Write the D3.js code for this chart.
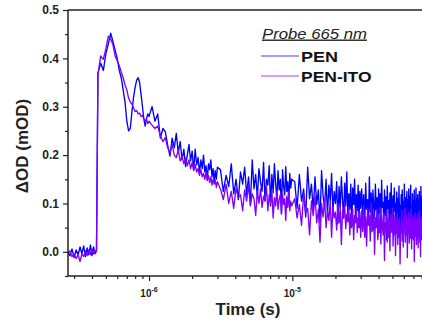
<!DOCTYPE html>
<html><head><meta charset="utf-8">
<script src="https://cdn.jsdelivr.net/npm/d3@7"></script>
<style>html,body{margin:0;padding:0;background:#fff;}svg{display:block;}</style>
</head><body>
<script>
// time in ns
const timeNs = [
270,280,290,300,310,320,330,340,350,360,370,380,390,400,410,420,430,
440,460,480,500,520,540,560,580,600,620,640,660,680,700,720,740,760,780,800,820,840,860,880,900,920,940,960,980,1000,
1050,1100,1150,1200,1250,1300,1350,1400,1450,1500,1550,1600,1650,1700,1750,1800,1850,1900,1950,2000,2050,2100,2150,2200,2250,2300,2350,2400,2450,2500,2550,2600,2650,2700,2750,2800,2850,2900,2950,3000,
3150,3300,3450,3600,3750,3900,4050,4200,4350,4500,4650,4800,4950,5100,5250,5400,5550,5700,5850,6000,6150,6300,6450,6600,6750,6900,7050,7200,7350,7500,7650,7800,7950,8100,8250,8400,8550,8700,8850,9000,9150,9300,9450,9600,9750,9900,
10400,10800,11200,11600,12000,12400,12800,13200,13600,14000,14400,14800,15200,15600,16000,16400,16800,17200,17600,18000,18400,18800,19200,19600,20000,20400,20800,21200,21600,22000,22400,22800,23200,23600,24000,24400,24800,25200,25600,26000,26400,26800,27200,27600,28000,28400,28800,29200,29600,30000,
30500,31000,31500,32000,32500,33000,33500,34000,34500,35000,
35500,36000,36500,37000,37500,38000,38500,39000,39500,40000,
40500,41000,41500,42000,42500,43000,43500,44000,44500,45000,
45500,46000,46500,47000,47500,48000,48500,49000,49500,50000,
50500,51000,51500,52000,52500,53000,53500,54000,54500,55000,
55500,56000,56500,57000,57500,58000,58500,59000,59500,60000,
60500,61000,61500,62000,62500,63000,63500,64000,64500,65000,
65500,66000,66500,67000,67500,68000,68500,69000,69500,70000,
70500,71000,71500,72000,72500,73000,73500,74000,74500,75000,
75500,76000,76500,77000,77500,78000,78500,79000,79500,80000,
80500,81000,81500,82000,82500,83000,83500,84000,84500,85000
];
const penOD = [
0.002,-0.008,0.006,-0.012,0.004,-0.006,0.01,-0.004,0.012,-0.01,0.008,-0.006,0.014,-0.008,0.01,-0.004,0.004,
0.37,0.39,0.375,0.41,0.43,0.452,0.435,0.417,0.40,0.375,0.36,0.335,0.31,0.27,0.25,0.255,0.29,0.32,0.34,0.355,0.36,0.35,0.325,0.30,0.275,0.26,0.275,0.285,0.28,
0.30,0.27,0.285,0.235,0.255,0.248,0.22,0.198,0.235,0.215,0.245,0.205,0.228,0.19,0.212,0.176,0.2,0.222,0.188,0.208,0.17,0.212,0.18,0.195,0.163,0.19,0.172,0.2,0.165,0.178,0.148,0.182,0.17,0.19,0.155,0.172,0.145,0.168,0.15,0.175,
0.17,0.125,0.158,0.135,0.182,0.12,0.15,0.108,0.165,0.14,0.175,0.118,0.155,0.098,0.19,0.13,0.16,0.112,0.172,0.145,0.125,0.185,0.105,0.15,0.138,0.178,0.095,0.16,0.122,0.182,0.14,0.11,0.168,0.128,0.15,0.08,0.17,0.135,0.118,0.176,0.125,0.145,0.1,0.162,0.132,0.15,
0.145,0.09,0.16,0.105,0.13,0.072,0.175,0.11,0.14,0.085,0.155,0.098,0.128,0.06,0.168,0.115,0.092,0.15,0.075,0.138,0.105,0.162,0.082,0.125,0.1,0.145,0.058,0.135,0.09,0.155,0.108,0.07,0.142,0.095,0.165,0.078,0.12,0.088,0.14,0.05,0.132,0.098,0.15,0.072,0.118,0.085,0.138,0.065,0.125,0.09,
0.13,0.075,0.118,0.052,0.142,0.088,0.108,0.065,0.155,0.082,
0.122,0.042,0.128,0.096,0.07,0.14,0.086,0.112,0.032,0.13,
0.08,0.12,0.06,0.148,0.092,0.102,0.048,0.128,0.076,0.114,
0.025,0.136,0.09,0.106,0.056,0.122,0.072,0.142,0.042,0.1,
0.116,0.062,0.132,0.084,0.1,0.038,0.124,0.076,0.11,0.052,
0.136,0.07,0.096,0.046,0.118,0.088,0.128,0.058,0.104,0.035,
0.14,0.078,0.112,0.06,0.098,0.125,0.05,0.108,0.082,0.13,
0.045,0.115,0.07,0.138,0.062,0.095,0.028,0.12,0.085,0.105,
0.055,0.128,0.075,0.1,0.04,0.132,0.068,0.11,0.05,0.118,
0.08,0.098,0.035,0.125,0.072,0.108,0.058,0.135,0.065,0.092,
0.045,0.115,0.078,0.12,0.052,0.102,0.07,0.128,0.04,0.11
];
const penItoOD = [
-0.004,0.002,-0.01,-0.004,-0.014,-0.006,-0.02,-0.004,-0.01,0.002,-0.008,0.004,-0.006,0.006,-0.004,0.002,0.0,
0.366,0.405,0.398,0.42,0.446,0.44,0.428,0.405,0.395,0.385,0.372,0.36,0.345,0.335,0.318,0.31,0.305,0.298,0.29,0.292,0.285,0.287,0.28,0.282,0.275,0.27,0.275,0.265,0.27,
0.262,0.255,0.26,0.24,0.228,0.236,0.215,0.205,0.222,0.2,0.195,0.21,0.188,0.198,0.182,0.194,0.178,0.19,0.172,0.185,0.168,0.18,0.165,0.172,0.158,0.17,0.155,0.162,0.15,0.165,0.148,0.158,0.143,0.155,0.138,0.15,0.14,0.148,0.133,0.145,
0.13,0.108,0.14,0.1,0.125,0.09,0.132,0.112,0.118,0.085,0.128,0.105,0.138,0.095,0.12,0.11,0.075,0.125,0.1,0.13,0.092,0.115,0.105,0.135,0.085,0.118,0.1,0.125,0.07,0.112,0.095,0.128,0.088,0.108,0.118,0.078,0.12,0.098,0.11,0.065,0.115,0.092,0.125,0.085,0.105,0.095,
0.11,0.07,0.098,0.055,0.12,0.08,0.09,0.035,0.105,0.075,0.115,0.06,0.088,0.02,0.1,0.072,0.11,0.05,0.085,0.065,0.105,0.03,0.095,0.07,0.082,0.045,0.1,0.06,0.09,0.015,0.085,0.07,0.098,0.048,0.078,0.062,0.092,0.035,0.08,0.055,0.088,0.025,0.075,0.06,0.09,0.04,0.07,0.05,0.082,0.03,
0.085,0.042,0.095,0.03,0.072,0.012,0.09,0.055,0.076,0.022,
0.1,0.06,0.045,0.082,-0.005,0.07,0.05,0.088,0.025,0.066,
0.04,0.092,0.016,0.075,0.055,0.035,0.08,-0.018,0.06,0.045,
0.086,0.02,0.07,0.03,0.065,0.002,0.078,0.05,0.04,0.09,
0.012,0.06,0.035,0.075,-0.008,0.055,0.045,0.08,0.015,0.066,
0.03,0.07,-0.025,0.05,0.04,0.085,0.022,0.062,0.01,0.072,
0.048,0.09,0.02,0.058,0.035,0.076,-0.012,0.064,0.04,0.082,
0.018,0.055,0.07,0.028,0.088,0.006,0.06,0.045,0.074,0.025,
0.066,-0.02,0.05,0.08,0.032,0.068,0.015,0.058,0.042,0.078,
0.008,0.062,0.036,0.085,0.02,0.052,-0.01,0.07,0.04,0.06,
0.025,0.075,0.045,0.01,0.068,0.035,0.08,0.018,0.055,0.04
];
const seriesNames = ["PEN", "PEN-ITO"];
const seriesColors = ["#0000ff", "#8000ff"];
const yTicks = [0.0, 0.1, 0.2, 0.3, 0.4, 0.5];
const yMinorTicks = [-0.05, 0.05, 0.15, 0.25, 0.35, 0.45];
const xMajorTicks = [1e-6, 1e-5];
const xMajorExp = ["-6", "-5"];
const xMinorTicks = [3e-7,4e-7,5e-7,6e-7,7e-7,8e-7,9e-7,2e-6,3e-6,4e-6,5e-6,6e-6,7e-6,8e-6,9e-6,2e-5,3e-5,4e-5,5e-5,6e-5,7e-5,8e-5,9e-5];
const legendTitle = "Probe 665 nm";
const xTitle = "Time (s)";
const yTitle = "ΔOD (mOD)";

const W = 422, H = 327;
const L = 68, T = 10, B = 276, R = 435.6;
const font = "'Liberation Sans', Arial, sans-serif";

const svg = d3.select("body").append("svg").attr("width", W).attr("height", H);
const x = d3.scaleLog().domain([2.72e-7, 1e-4]).range([L, R]);
const y = d3.scaleLinear().domain([-0.05, 0.5]).range([B, T]);

svg.append("defs").append("clipPath").attr("id", "clip")
  .append("rect").attr("x", L).attr("y", T).attr("width", R - L).attr("height", B - T);

const seriesData = [penOD, penItoOD].map(vals => timeNs.map((t, i) => ({t: t * 1e-9, v: vals[i]})));
const line = d3.line().x(d => x(d.t)).y(d => y(d.v));
const plot = svg.append("g").attr("clip-path", "url(#clip)");
seriesData.forEach((d, i) => {
  plot.append("path").datum(d).attr("d", line)
    .attr("fill", "none").attr("stroke", seriesColors[i]).attr("stroke-width", 1.35)
    .attr("stroke-linejoin", "round");
});

const axisColor = "#222";
const yAx = svg.append("g").attr("transform", `translate(${L},0)`)
  .call(d3.axisLeft(y).tickValues(yTicks).tickFormat(d3.format(".1f")).tickSize(5).tickPadding(4));
const yAxMinor = svg.append("g").attr("transform", `translate(${L},0)`)
  .call(d3.axisLeft(y).tickValues(yMinorTicks).tickFormat("").tickSize(3));
const xAx = svg.append("g").attr("transform", `translate(0,${B})`)
  .call(d3.axisBottom(x).tickValues(xMajorTicks).tickFormat("").tickSize(5));
const xAxMinor = svg.append("g").attr("transform", `translate(0,${B})`)
  .call(d3.axisBottom(x).tickValues(xMinorTicks).tickFormat("").tickSize(3));
[yAx, yAxMinor, xAx, xAxMinor].forEach(g => {
  g.select(".domain").remove();
  g.selectAll("line").attr("stroke", axisColor).attr("stroke-width", 1.2);
});
yAx.selectAll("text").attr("font-family", font).attr("font-weight", "bold")
  .attr("font-size", 12).attr("fill", "#222");

svg.append("line").attr("x1", L).attr("x2", L).attr("y1", T).attr("y2", B + 0.5)
  .attr("stroke", axisColor).attr("stroke-width", 1.5);
svg.append("line").attr("x1", L).attr("x2", W).attr("y1", B).attr("y2", B)
  .attr("stroke", axisColor).attr("stroke-width", 1.5);
svg.append("line").attr("x1", L).attr("x2", W).attr("y1", T).attr("y2", T)
  .attr("stroke", axisColor).attr("stroke-width", 1.5);

xMajorTicks.forEach((v, i) => {
  const tx = svg.append("text").attr("x", x(v)).attr("y", 297)
    .attr("text-anchor", "middle").attr("font-family", font).attr("font-weight", "bold")
    .attr("font-size", 10).attr("fill", "#222");
  tx.append("tspan").text("10");
  tx.append("tspan").attr("dy", -5).attr("font-size", 7).text(xMajorExp[i]);
});

svg.append("text").attr("x", 248).attr("y", 315).attr("text-anchor", "middle")
  .attr("font-family", font).attr("font-weight", "bold").attr("font-size", 17)
  .attr("fill", "#222").text(xTitle);
svg.append("text").attr("transform", "translate(28,146) rotate(-90)").attr("text-anchor", "middle")
  .attr("font-family", font).attr("font-weight", "bold").attr("font-size", 17)
  .attr("fill", "#222").text(yTitle);

const lg = svg.append("g");
lg.append("text").attr("x", 262).attr("y", 38.5).attr("font-family", font)
  .attr("font-style", "italic").attr("font-size", 14).attr("fill", "#222")
  .attr("text-decoration", "underline").attr("textLength", 105).attr("lengthAdjust", "spacingAndGlyphs")
  .text(legendTitle);
seriesNames.forEach((n, i) => {
  const yy = 56 + i * 20;
  lg.append("line").attr("x1", 261).attr("x2", 299).attr("y1", yy).attr("y2", yy)
    .attr("stroke", seriesColors[i]).attr("stroke-width", 1.2).attr("stroke-opacity", 0.75);
  lg.append("text").attr("x", 301).attr("y", yy + 5.5).attr("font-family", font)
    .attr("font-weight", "bold").attr("font-size", 15).attr("fill", "#111")
    .attr("textLength", i === 0 ? 37 : 70.5).attr("lengthAdjust", "spacingAndGlyphs")
    .text(n);
});
</script>
</body></html>
